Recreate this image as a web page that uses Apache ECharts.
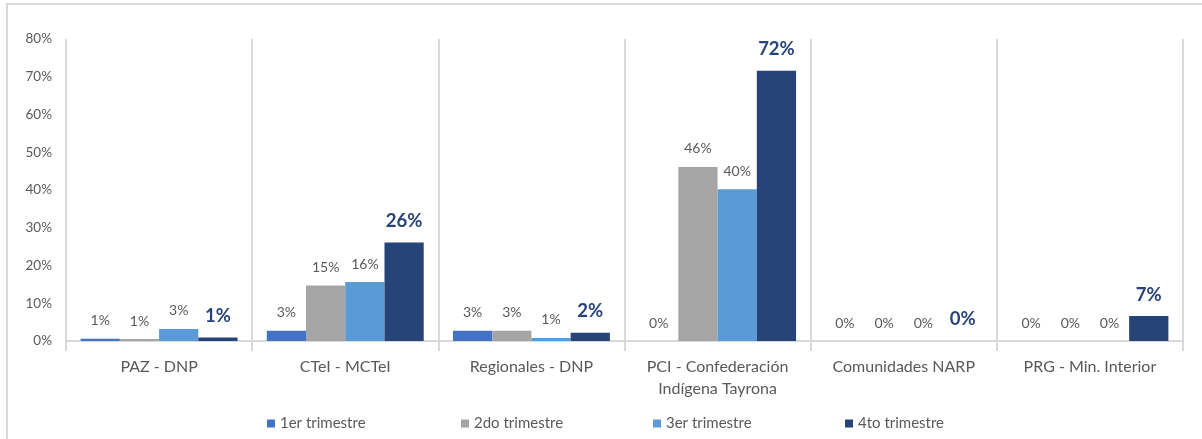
<!DOCTYPE html>
<html>
<head>
<meta charset="utf-8">
<script src="https://cdn.jsdelivr.net/npm/echarts@6/dist/echarts.min.js"></script>
<style>
html,body{margin:0;padding:0;background:#fff;}
#chart{width:1202px;height:439px;}
</style>
</head>
<body>
<div id="chart"></div>
<script>
const categories = ['PAZ - DNP', 'CTeI - MCTeI', 'Regionales - DNP', 'PCI - Confederación\nIndígena Tayrona', 'Comunidades NARP', 'PRG - Min. Interior'];
const seriesNames = ['1er trimestre', '2do trimestre', '3er trimestre', '4to trimestre'];
const q1 = [0.6, 2.7, 2.7, 0, 0, 0];
const q2 = [0.5, 14.7, 2.7, 46.1, 0, 0];
const q3 = [3.2, 15.6, 0.8, 40.2, 0, 0];
const q4 = [0.9, 26.1, 2.2, 71.6, 0, 6.6];
const yTicks = [0, 10, 20, 30, 40, 50, 60, 70, 80];
const colors = ['#4472C4', '#A5A5A5', '#5B9BD5', '#264478'];

const FONT = 'Lato, "Open Sans", sans-serif';
const chart = echarts.init(document.getElementById('chart'));
const allData = [q1, q2, q3, q4];
const series = allData.map((d, i) => ({
  name: seriesNames[i],
  type: 'bar',
  data: d,
  barGap: '0%',
  barCategoryGap: '15.7%',
  itemStyle: { color: colors[i] },
  label: i === 3 ? {
    show: true, position: 'top', distance: 12,
    formatter: p => Math.round(p.value) + '%',
    color: '#264478', fontSize: 18.5, fontWeight: 'bold', fontFamily: FONT
  } : {
    show: true, position: 'top', distance: 11,
    formatter: p => Math.round(p.value) + '%',
    color: '#595959', fontSize: 14, fontFamily: FONT
  }
}));

const legendLefts = [262, 456, 648, 840];
const legends = seriesNames.map((n, i) => ({
  data: [n],
  left: legendLefts[i], top: 411,
  itemWidth: 8, itemHeight: 8, itemGap: 5,
  icon: 'rect',
  textStyle: { color: '#595959', fontSize: 15, fontFamily: FONT }
}));

chart.setOption({
  animation: false,
  textStyle: { fontFamily: FONT },
  grid: { left: 66, right: 19, top: 39, bottom: 98, containLabel: false },
  graphic: [{
    type: 'rect', shape: { x: 7, y: 4, width: 1210, height: 450 },
    style: { fill: 'none', stroke: '#D9D9D9', lineWidth: 2 }, silent: true, z: -1
  }],
  legend: legends,
  xAxis: {
    type: 'category',
    data: categories,
    axisLine: { show: true, lineStyle: { color: '#D9D9D9', width: 2 } },
    axisTick: { show: true, length: 10, lineStyle: { color: '#D9D9D9', width: 2 } },
    splitLine: { show: true, lineStyle: { color: '#D9D9D9', width: 2 } },
    axisLabel: { color: '#595959', fontSize: 16, margin: 15, lineHeight: 22, fontFamily: FONT, interval: 0 }
  },
  yAxis: {
    type: 'value',
    min: yTicks[0], max: yTicks[yTicks.length - 1], interval: 10,
    axisLine: { show: false },
    axisTick: { show: false },
    splitLine: { show: false },
    axisLabel: { formatter: '{value}%', color: '#595959', fontSize: 13.5, margin: 14, fontFamily: FONT }
  },
  series: series
});
</script>
</body>
</html>
